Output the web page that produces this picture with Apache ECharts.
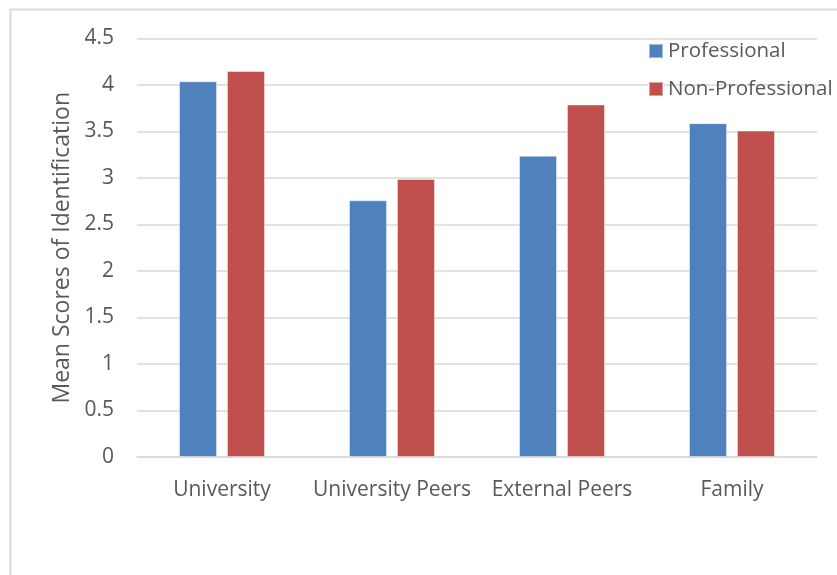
<!DOCTYPE html>
<html>
<head>
<meta charset="utf-8">
<script src="https://cdn.jsdelivr.net/npm/echarts@6/dist/echarts.min.js"></script>
<style>
  html, body { margin: 0; padding: 0; background: #fff; }
  #chart { width: 837px; height: 575px; }
</style>
</head>
<body>
<div id="chart"></div>
<script>
// Mean identification scores by source, split by group
const categories = ['University', 'University Peers', 'External Peers', 'Family'];
const professional = [4.04, 2.76, 3.24, 3.59];
const nonProfessional = [4.15, 2.99, 3.79, 3.51];
const seriesNames = ['Professional', 'Non-Professional'];
const axisTitle = 'Mean Scores of Identification';

const textColor = '#595959';
const gridColor = '#d9d9d9';
const fontFamily = '"Open Sans", "Noto Sans", sans-serif';

const chart = echarts.init(document.getElementById('chart'), null, { renderer: 'canvas' });

chart.setOption({
  animation: false,
  textStyle: { fontFamily: fontFamily },
  graphic: [{
    type: 'rect',
    shape: { x: 10.5, y: 9.5, width: 900, height: 700 },
    style: { fill: 'none', stroke: gridColor, lineWidth: 2 },
    silent: true,
    z: -10
  }],
  grid: { left: 137, right: 20, top: 38.5, bottom: 118, containLabel: false },
  legend: {
    orient: 'vertical',
    left: 643,
    top: 34,
    itemWidth: 14,
    itemHeight: 14,
    itemGap: 14,
    icon: 'rect',
    textStyle: { color: textColor, fontSize: 20.5, lineHeight: 24, fontFamily: fontFamily },
    data: seriesNames
  },
  xAxis: {
    type: 'category',
    data: categories,
    axisLine: { show: true, lineStyle: { color: gridColor, width: 1.5 } },
    axisTick: { show: false },
    axisLabel: { color: textColor, fontSize: 21, margin: 23, interval: 0, fontFamily: fontFamily }
  },
  yAxis: {
    type: 'value',
    min: 0,
    max: 4.5,
    interval: 0.5,
    name: axisTitle,
    nameLocation: 'middle',
    nameGap: 60,
    nameTextStyle: { color: textColor, fontSize: 23, fontFamily: fontFamily },
    axisLine: { show: false },
    axisTick: { show: false },
    axisLabel: { color: textColor, fontSize: 21, margin: 23, fontFamily: fontFamily },
    splitLine: { show: true, lineStyle: { color: gridColor, width: 1.5 } }
  },
  series: [
    {
      name: seriesNames[0],
      type: 'bar',
      data: professional,
      barGap: '26%',
      barCategoryGap: '49.4%',
      itemStyle: { color: '#4f81bd', borderColor: 'rgba(255,255,255,0.45)', borderWidth: 1 }
    },
    {
      name: seriesNames[1],
      type: 'bar',
      data: nonProfessional,
      barGap: '26%',
      barCategoryGap: '49.4%',
      itemStyle: { color: '#c0504d', borderColor: 'rgba(255,255,255,0.45)', borderWidth: 1 }
    }
  ]
});
</script>
</body>
</html>
